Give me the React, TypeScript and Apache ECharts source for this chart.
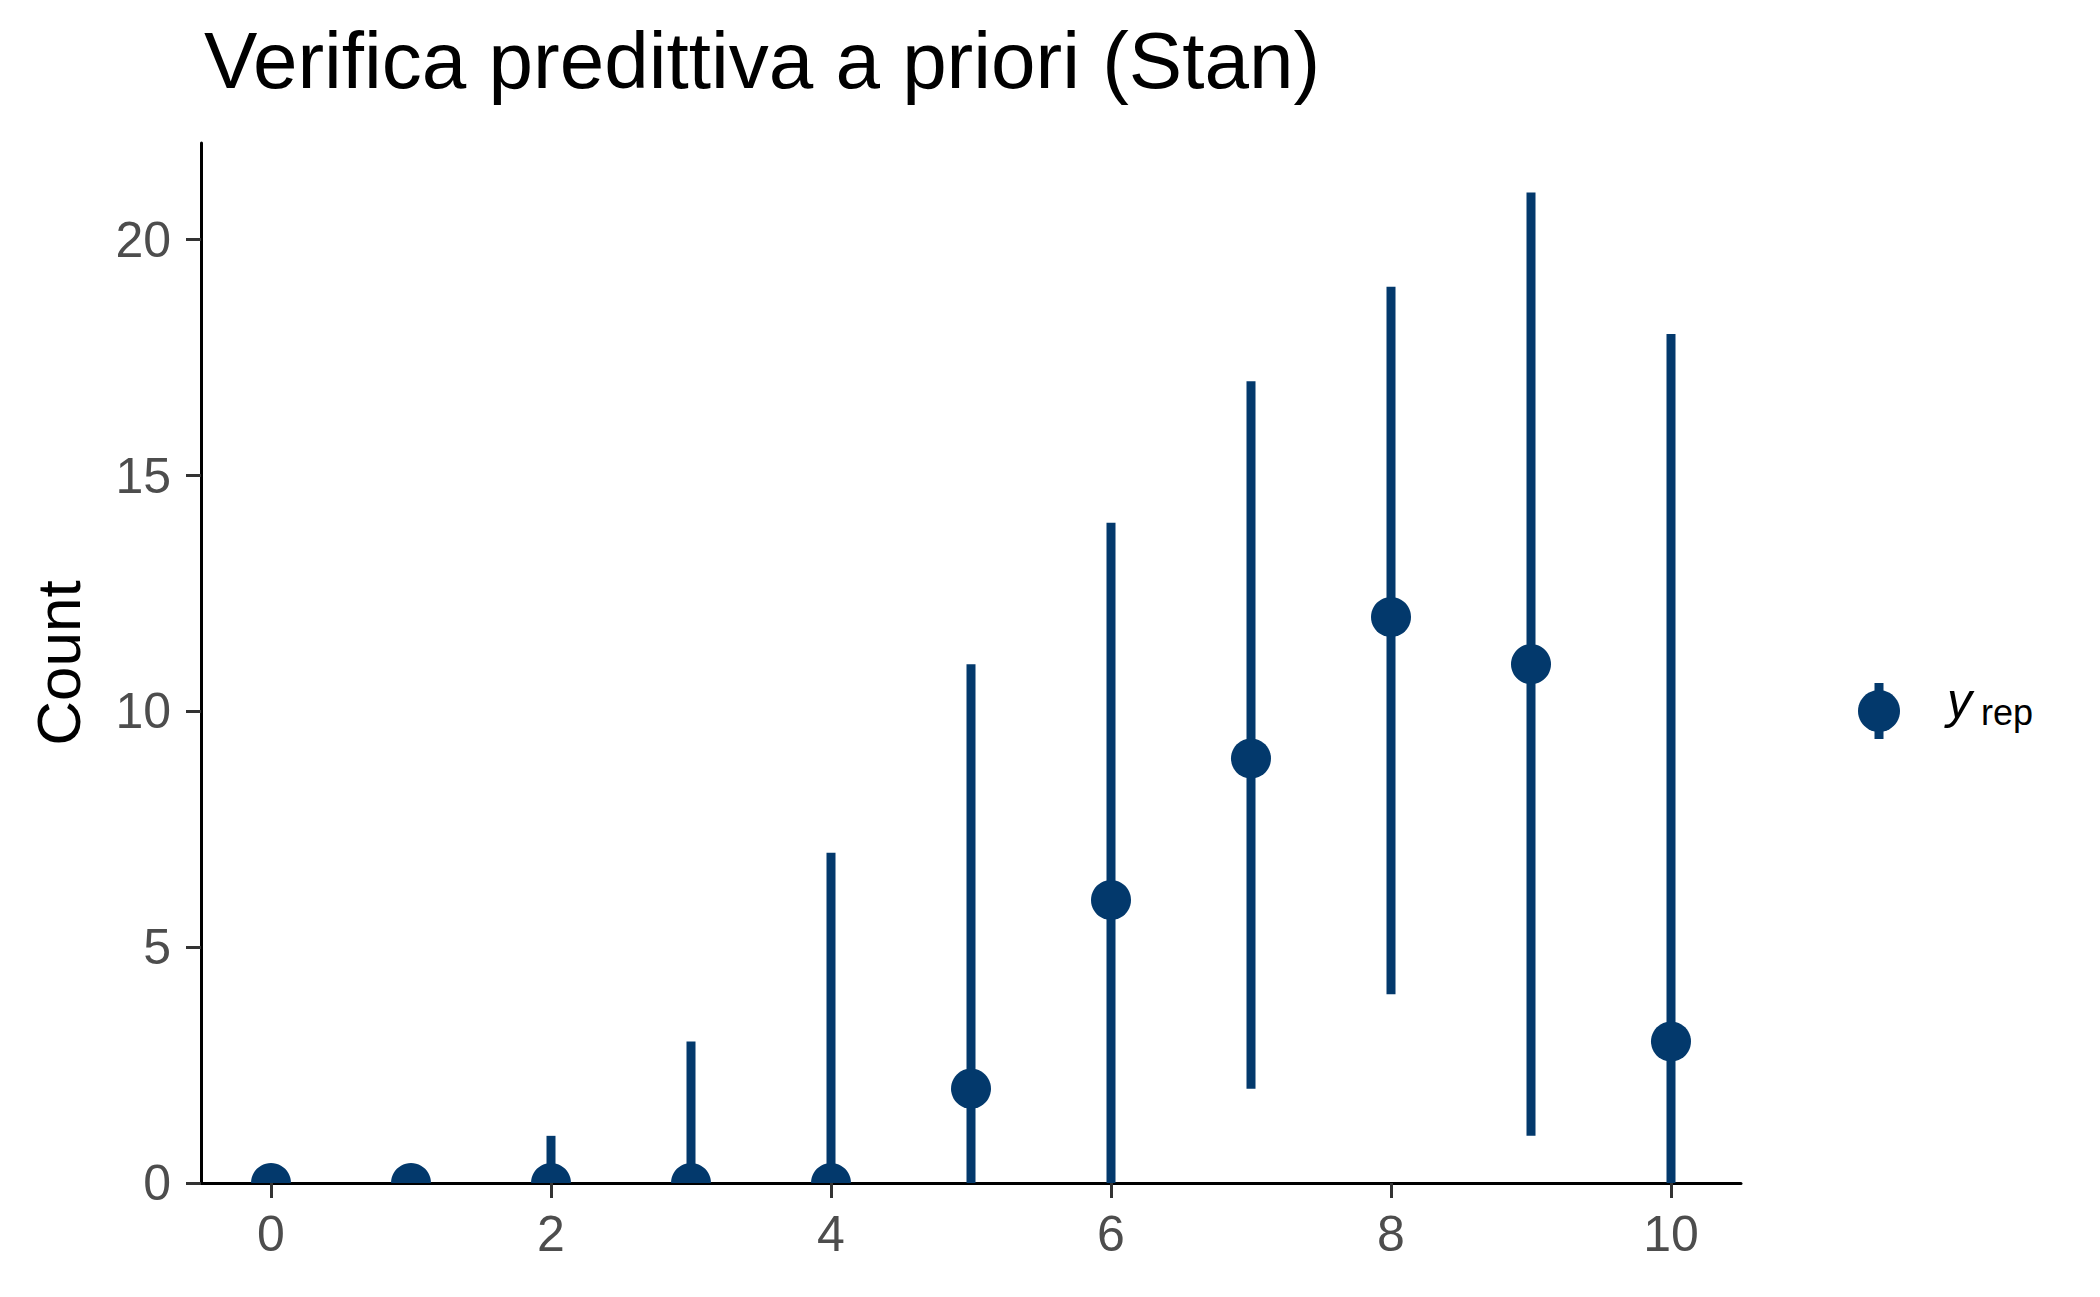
import React, { useEffect, useRef } from "react";
import * as echarts from "echarts";

const xValues = [0, 1, 2, 3, 4, 5, 6, 7, 8, 9, 10];
const medians = [0, 0, 0, 0, 0, 2, 6, 9, 12, 11, 3];
const lower = [0, 0, 0, 0, 0, 0, 0, 2, 4, 1, 0];
const upper = [0, 0, 1, 3, 7, 11, 14, 17, 19, 21, 18];
const xTicks = [0, 2, 4, 6, 8, 10];
const yTicks = [0, 5, 10, 15, 20];

const COLOR = "#03396c";
const FONT = "Liberation Sans, Arial, sans-serif";

export default function App() {
  const ref = useRef<HTMLDivElement>(null);
  useEffect(() => {
    if (!ref.current) return;
    const chart = echarts.init(ref.current, null, { renderer: "svg" });
    const data = xValues.map((x, i) => [x, medians[i], lower[i], upper[i]]);
    chart.setOption({
      animation: false,
      backgroundColor: "#ffffff",
      grid: { left: 201, top: 143, width: 1540, height: 1040, containLabel: false },
      xAxis: {
        type: "value",
        min: -0.5,
        max: 10.5,
        splitLine: { show: false },
        axisLine: { show: true, onZero: false, lineStyle: { color: "#000", width: 3 } },
        axisTick: { show: true, customValues: xTicks, length: 15, lineStyle: { color: "#333", width: 3 } },
        axisLabel: { customValues: xTicks, margin: 26, fontSize: 50, color: "#4d4d4d", fontFamily: FONT },
      },
      yAxis: {
        type: "value",
        min: 0,
        max: 22.05,
        splitLine: { show: false },
        axisLine: { show: true, onZero: false, lineStyle: { color: "#000", width: 3 } },
        axisTick: { show: true, customValues: yTicks, length: 15, lineStyle: { color: "#333", width: 3 } },
        axisLabel: { customValues: yTicks, margin: 30, fontSize: 50, color: "#4d4d4d", fontFamily: FONT },
      },
      series: [
        {
          type: "custom",
          clip: true,
          data,
          renderItem: (params: any, api: any) => {
            const x = api.value(0);
            const m = api.value(1);
            const lo = api.value(2);
            const hi = api.value(3);
            const pLo = api.coord([x, lo]);
            const pHi = api.coord([x, hi]);
            const pM = api.coord([x, m]);
            const children: any[] = [];
            if (hi > lo) {
              children.push({
                type: "rect",
                shape: { x: pLo[0] - 4.5, y: pHi[1], width: 9, height: pLo[1] - pHi[1] },
                style: { fill: COLOR },
              });
            }
            children.push({
              type: "circle",
              shape: { cx: pM[0], cy: pM[1], r: 20 },
              style: { fill: COLOR },
            });
            return { type: "group", children };
          },
        },
      ],
      graphic: [
        {
          type: "text",
          left: 204,
          top: 20,
          style: { text: "Verifica predittiva a priori (Stan)", fontSize: 80, fill: "#000", fontFamily: FONT },
        },
        {
          type: "text",
          x: 58,
          y: 663,
          rotation: Math.PI / 2,
          style: {
            text: "Count",
            fontSize: 62,
            fill: "#000",
            fontFamily: FONT,
            align: "center",
            verticalAlign: "middle",
          },
        },
        {
          type: "rect",
          shape: { x: 1874.5, y: 683, width: 9, height: 56 },
          style: { fill: COLOR },
        },
        {
          type: "circle",
          shape: { cx: 1879, cy: 711, r: 21 },
          style: { fill: COLOR },
        },
        {
          type: "text",
          x: 1947,
          y: 726,
          style: {
            text: "y",
            fontSize: 50,
            fontStyle: "italic",
            fill: "#000",
            fontFamily: FONT,
            verticalAlign: "bottom",
          },
        },
        {
          type: "text",
          x: 1981,
          y: 730,
          style: {
            text: "rep",
            fontSize: 36,
            fill: "#000",
            fontFamily: FONT,
            verticalAlign: "bottom",
          },
        },
      ],
    });
    return () => chart.dispose();
  }, []);
  return (
    <div
      ref={ref}
      style={{ position: "fixed", left: 0, top: 0, width: 2100, height: 1297 }}
    />
  );
}
